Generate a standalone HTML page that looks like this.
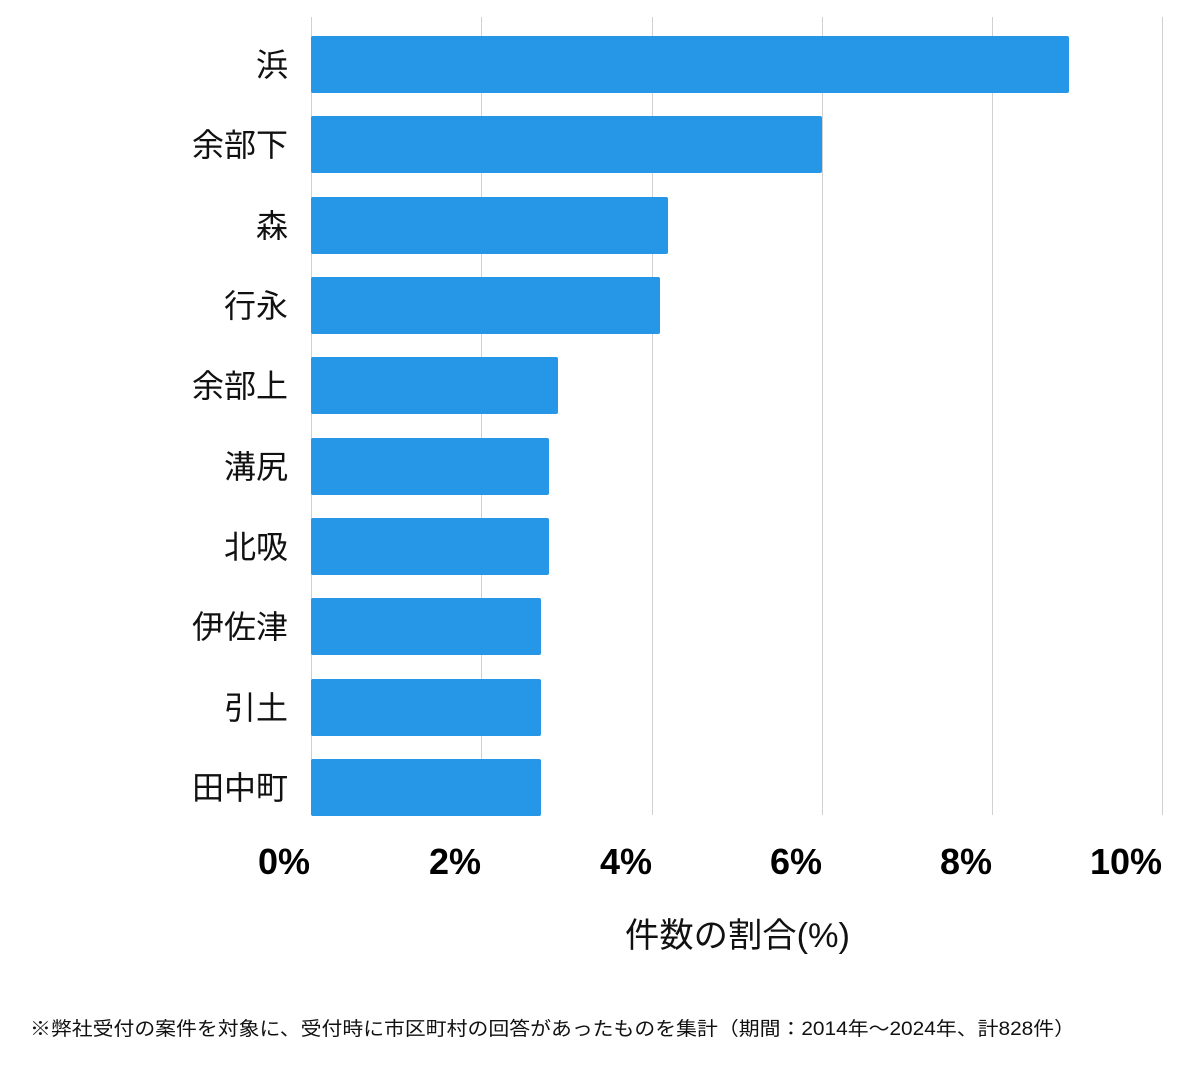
<!DOCTYPE html>
<html><head><meta charset="utf-8"><style>
body{margin:0;background:#fff;}
svg text{font-family:"Liberation Sans","Noto Sans CJK JP",sans-serif;}
</style></head><body>
<svg width="1200" height="1069" viewBox="0 0 1200 1069" xmlns="http://www.w3.org/2000/svg">
<g stroke="#d0d0d0" stroke-width="1">
<line x1="311.5" y1="17" x2="311.5" y2="815"/>
<line x1="481.5" y1="17" x2="481.5" y2="815"/>
<line x1="652.5" y1="17" x2="652.5" y2="815"/>
<line x1="822.5" y1="17" x2="822.5" y2="815"/>
<line x1="992.5" y1="17" x2="992.5" y2="815"/>
<line x1="1162.5" y1="17" x2="1162.5" y2="815"/>
</g>
<g fill="#2696e6">
<rect x="311" y="36" width="758" height="57" rx="2"/>
<rect x="311" y="116" width="511" height="57" rx="2"/>
<rect x="311" y="197" width="357" height="57" rx="2"/>
<rect x="311" y="277" width="349" height="57" rx="2"/>
<rect x="311" y="357" width="247" height="57" rx="2"/>
<rect x="311" y="438" width="238" height="57" rx="2"/>
<rect x="311" y="518" width="238" height="57" rx="2"/>
<rect x="311" y="598" width="230" height="57" rx="2"/>
<rect x="311" y="679" width="230" height="57" rx="2"/>
<rect x="311" y="759" width="230" height="57" rx="2"/>
</g>
<g font-size="32" text-anchor="end" fill="#111">
<text x="288" y="76">浜</text>
<text x="288" y="156">余部下</text>
<text x="288" y="237">森</text>
<text x="288" y="317">行永</text>
<text x="288" y="397">余部上</text>
<text x="288" y="478">溝尻</text>
<text x="288" y="558">北吸</text>
<text x="288" y="638">伊佐津</text>
<text x="288" y="719">引土</text>
<text x="288" y="799">田中町</text>
</g>
<g font-size="36" font-weight="bold" text-anchor="end" fill="#000">
<text x="310" y="874">0%</text>
<text x="481" y="874">2%</text>
<text x="652" y="874">4%</text>
<text x="822" y="874">6%</text>
<text x="992" y="874">8%</text>
<text x="1162" y="874">10%</text>
</g>
<text x="625" y="947" font-size="34" textLength="225" lengthAdjust="spacingAndGlyphs" fill="#111">件数の割合(%)</text>
<text x="30" y="1035" font-size="19" textLength="1045" lengthAdjust="spacingAndGlyphs" fill="#111">※弊社受付の案件を対象に、受付時に市区町村の回答があったものを集計（期間：2014年～2024年、計828件）</text>
</svg>
</body></html>
